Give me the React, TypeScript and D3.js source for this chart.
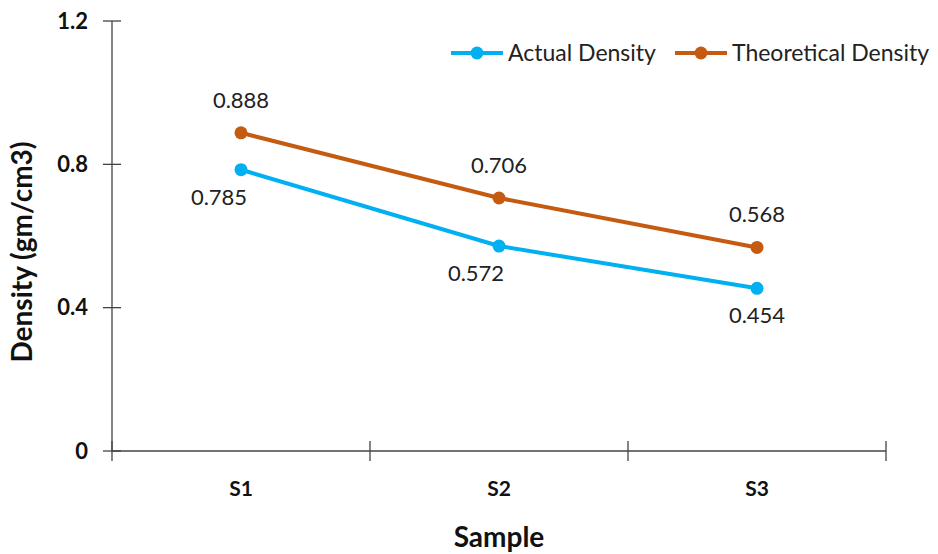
import React from "react";
import * as d3 from "d3";

const samples = ["S1", "S2", "S3"];
const actualDensity = [0.785, 0.572, 0.454];
const theoreticalDensity = [0.888, 0.706, 0.568];
const yTicks = [0, 0.4, 0.8, 1.2];

const W = 938;
const H = 554;
const M = { left: 112, right: 52, top: 21, bottom: 103 };
const FONT = "Lato, 'Open Sans', sans-serif";
const BLUE = "#00B0F0";
const ORANGE = "#C55A11";

export default function App() {
  const x = d3
    .scaleBand<string>()
    .domain(samples)
    .range([M.left, W - M.right])
    .paddingInner(0)
    .paddingOuter(0);
  const y = d3.scaleLinear().domain([0, 1.2]).range([H - M.bottom, M.top]);
  const cx = (s: string) => (x(s) ?? 0) + x.bandwidth() / 2;

  const line = d3
    .line<number>()
    .x((_, i) => cx(samples[i]))
    .y((d) => y(d));

  const series = [
    { name: "Actual Density", values: actualDensity, color: BLUE, below: true },
    { name: "Theoretical Density", values: theoreticalDensity, color: ORANGE, below: false },
  ];

  // horizontal nudges for the labels under the lower series
  const belowDx = [-22, -23, 0];

  const bandEdges = [...samples.map((s) => x(s) ?? 0), W - M.right];
  const y0 = y(0);

  return (
    <svg width={W} height={H} style={{ position: "absolute", left: 0, top: 0 }}>
      <rect width={W} height={H} fill="#fff" />
      {/* axes */}
      <line x1={M.left} x2={M.left} y1={y(1.2)} y2={y0} stroke="#444" strokeWidth={1.3} />
      <line x1={M.left} x2={W - M.right} y1={y0} y2={y0} stroke="#444" strokeWidth={1.3} />
      {yTicks.map((t) => (
        <g key={t}>
          <line x1={M.left - 9} x2={M.left + 9} y1={y(t)} y2={y(t)} stroke="#444" strokeWidth={1.3} />
          <text
            x={M.left - 24}
            y={y(t)}
            dy="0.35em"
            textAnchor="end"
            fontFamily={FONT}
            fontWeight="bold"
            fontSize={22}
            fill="#111"
          >
            {t === 0 ? "0" : t.toFixed(1)}
          </text>
        </g>
      ))}
      {bandEdges.map((e, i) => (
        <line key={i} x1={e} x2={e} y1={y0 - 10} y2={y0 + 10} stroke="#444" strokeWidth={1.3} />
      ))}
      {samples.map((s) => (
        <text
          key={s}
          x={cx(s)}
          y={y0 + 45}
          textAnchor="middle"
          fontFamily={FONT}
          fontWeight="bold"
          fontSize={21}
          fill="#111"
        >
          {s}
        </text>
      ))}
      {/* axis titles */}
      <text
        x={(M.left + W - M.right) / 2}
        y={547}
        textAnchor="middle"
        fontFamily={FONT}
        fontWeight="bold"
        fontSize={28}
        fill="#111"
      >
        Sample
      </text>
      <text
        transform={`translate(32, ${(y(1.2) + y0) / 2 + 16}) rotate(-90)`}
        textAnchor="middle"
        fontFamily={FONT}
        fontWeight="bold"
        fontSize={28}
        fill="#111"
      >
        Density (gm/cm3)
      </text>
      {/* series */}
      {series.map((sr) => (
        <g key={sr.name}>
          <path d={line(sr.values) ?? ""} fill="none" stroke={sr.color} strokeWidth={4} />
          {sr.values.map((v, i) => (
            <circle key={i} cx={cx(samples[i])} cy={y(v)} r={6.5} fill={sr.color} />
          ))}
          {sr.values.map((v, i) => (
            <text
              key={"l" + i}
              x={cx(samples[i]) + (sr.below ? belowDx[i] : 0)}
              y={sr.below ? y(v) + 35 : y(v) - 25}
              textAnchor="middle"
              fontFamily={FONT}
              fontSize={22}
              fill="#222"
            >
              {v.toFixed(3)}
            </text>
          ))}
        </g>
      ))}
      {/* legend */}
      {series.map((sr, i) => {
        const lx = i === 0 ? 451 : 675;
        return (
          <g key={"lg" + i}>
            <line x1={lx} x2={lx + 52} y1={53} y2={53} stroke={sr.color} strokeWidth={4} />
            <circle cx={lx + 26} cy={53} r={6.5} fill={sr.color} />
            <text x={lx + 57} y={53} dy="0.35em" fontFamily={FONT} fontSize={23} fill="#222">
              {sr.name}
            </text>
          </g>
        );
      })}
    </svg>
  );
}
